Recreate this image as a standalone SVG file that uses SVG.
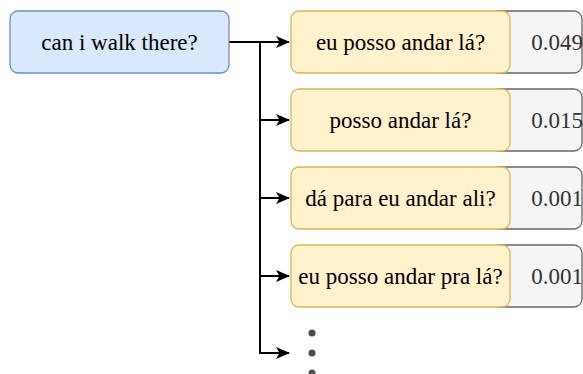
<svg xmlns="http://www.w3.org/2000/svg" width="583" height="374" viewBox="0 0 583 374">
<style>
text{font-family:"Liberation Serif","Times New Roman",serif;font-size:23px;text-anchor:middle;dominant-baseline:central}
.src{fill:#dae8fc;stroke:#6c8ebf;stroke-width:1.3}
.cand{fill:#fff2cc;stroke:#d6b656;stroke-width:1.3}
.score{fill:#f5f5f5;stroke:#666666;stroke-width:1.3}
.num{fill:#333333}
.lbl{fill:#000000}
.edge{fill:none;stroke:#000;stroke-width:2}
.dot{fill:#4d4d4d}
</style>
<defs>
<marker id="arr" viewBox="0 0 14 12" refX="13" refY="6" markerWidth="14" markerHeight="12" markerUnits="userSpaceOnUse" orient="auto">
<path d="M0,0 L14,6 L0,12 L3.5,6 Z" fill="#000"/>
</marker>
</defs>
<g id="edges">
<path class="edge" d="M229,42 H289" marker-end="url(#arr)"/>
<path class="edge" d="M260,42 V353"/>
<path class="edge" d="M260,120 H289" marker-end="url(#arr)"/>
<path class="edge" d="M260,198 H289" marker-end="url(#arr)"/>
<path class="edge" d="M260,276 H289" marker-end="url(#arr)"/>
<path class="edge" d="M259,353 H289" marker-end="url(#arr)"/>
</g>
<g id="source">
<rect class="src" x="10" y="11" width="219" height="62" rx="8"/>
<text class="lbl" x="119.5" y="42">can i walk there?</text>
</g>
<g id="cand1">
<rect class="score" x="490" y="11" width="92" height="62" rx="8"/>
<text class="num" x="557" y="42">0.049</text>
<rect class="cand" x="291" y="11" width="219" height="62" rx="8"/>
<text class="lbl" x="400.5" y="42">eu posso andar lá?</text>
</g>
<g id="cand2">
<rect class="score" x="490" y="89" width="92" height="62" rx="8"/>
<text class="num" x="557" y="120">0.015</text>
<rect class="cand" x="291" y="89" width="219" height="62" rx="8"/>
<text class="lbl" x="400.5" y="120">posso andar lá?</text>
</g>
<g id="cand3">
<rect class="score" x="490" y="167" width="92" height="62" rx="8"/>
<text class="num" x="557" y="198">0.001</text>
<rect class="cand" x="291" y="167" width="219" height="62" rx="8"/>
<text class="lbl" x="400.5" y="198">dá para eu andar ali?</text>
</g>
<g id="cand4">
<rect class="score" x="490" y="245" width="92" height="62" rx="8"/>
<text class="num" x="557" y="276">0.001</text>
<rect class="cand" x="291" y="245" width="219" height="62" rx="8"/>
<text class="lbl" x="400.5" y="276">eu posso andar pra lá?</text>
</g>
<g id="ellipsis">
<circle class="dot" cx="312" cy="333" r="3.5"/>
<circle class="dot" cx="312" cy="353" r="3.5"/>
<circle class="dot" cx="312" cy="373" r="3.5"/>
</g>
</svg>
